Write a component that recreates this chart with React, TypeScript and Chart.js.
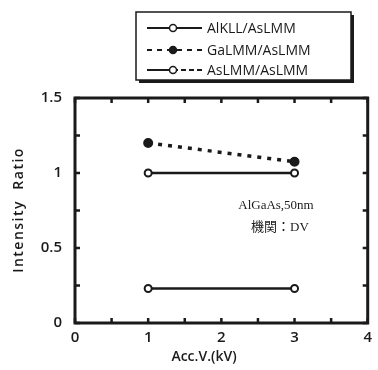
import React, { useEffect, useRef } from "react";
import { Chart, registerables } from "chart.js";

Chart.register(...registerables);

// Accelerating voltage (kV)
const accVoltage = [1, 3];
// Intensity ratios per line pair
const alKllRatio = [0.23, 0.23];
const gaLmmRatio = [1.2, 1.075];
const asLmmRatio = [1.0, 1.0];
const seriesNames = ["AlKLL/AsLMM", "GaLMM/AsLMM", "AsLMM/AsLMM"];
const xTickLabels = ["0", "1", "2", "3", "4"];
const yTickLabels = ["0", "0.5", "1", "1.5"];
const noteLines = ["AlGaAs,50nm", "機関：DV"];

const INK = "#1a1a1a";
const SANS = "'Open Sans', 'DejaVu Sans', sans-serif";

const toPoints = (ys: number[]) => accVoltage.map((x, i) => ({ x, y: ys[i] }));

const decorations = {
  id: "decorations",
  afterDraw(chart: any) {
    const ctx = chart.ctx as CanvasRenderingContext2D;
    const { left, right, top, bottom } = chart.chartArea;
    const xs = chart.scales.x;
    const ys = chart.scales.y;
    ctx.save();

    // frame
    ctx.strokeStyle = INK;
    ctx.lineWidth = 3;
    ctx.strokeRect(left, top, right - left, bottom - top);

    // inward ticks on all four sides
    ctx.lineWidth = 2.5;
    const tl = 5;
    for (let v = 0; v <= 4.0001; v += 0.5) {
      const px = xs.getPixelForValue(v);
      ctx.beginPath();
      ctx.moveTo(px, bottom);
      ctx.lineTo(px, bottom - tl);
      ctx.moveTo(px, top);
      ctx.lineTo(px, top + tl);
      ctx.stroke();
    }
    for (let v = 0; v <= 1.5001; v += 0.25) {
      const py = ys.getPixelForValue(v);
      ctx.beginPath();
      ctx.moveTo(left, py);
      ctx.lineTo(left + tl, py);
      ctx.moveTo(right, py);
      ctx.lineTo(right - tl, py);
      ctx.stroke();
    }

    // axis titles
    ctx.fillStyle = INK;
    ctx.font = `600 14px ${SANS}`;
    ctx.textAlign = "center";
    ctx.textBaseline = "middle";
    ctx.fillText("Acc.V.(kV)", 204, 357);
    ctx.save();
    ctx.translate(19, 210);
    ctx.rotate(-Math.PI / 2);
    (ctx as any).letterSpacing = "1.5px";
    ctx.fillText("Intensity  Ratio", 0, 0);
    ctx.restore();

    // note text
    ctx.font = `13px 'Liberation Serif', 'DejaVu Serif', 'Noto Sans CJK JP', serif`;
    ctx.fillText(noteLines[0], 276, 206);
    ctx.font = `13px 'Liberation Serif', 'Noto Sans CJK JP', serif`;
    ctx.fillText(noteLines[1], 280, 228);

    // legend box with drop shadow
    const bx = 136, by = 12, bw = 215, bh = 68;
    ctx.lineWidth = 1.5;
    ctx.strokeRect(bx, by, bw, bh);
    ctx.lineWidth = 3;
    ctx.beginPath();
    ctx.moveTo(bx + bw + 1.5, by + 3);
    ctx.lineTo(bx + bw + 1.5, by + bh + 1.5);
    ctx.lineTo(bx + 3, by + bh + 1.5);
    ctx.stroke();

    const rows = [28, 50, 70];
    const x0 = 147, x1 = 202, mx = 173;
    ctx.font = `14px ${SANS}`;
    ctx.textAlign = "left";
    rows.forEach((ry, i) => {
      ctx.lineWidth = 2;
      ctx.strokeStyle = INK;
      if (i === 0) {
        ctx.setLineDash([]);
        ctx.beginPath();
        ctx.moveTo(x0, ry);
        ctx.lineTo(x1, ry);
        ctx.stroke();
      } else if (i === 1) {
        ctx.setLineDash([5, 5]);
        ctx.beginPath();
        ctx.moveTo(x0, ry);
        ctx.lineTo(x1, ry);
        ctx.stroke();
      } else {
        ctx.setLineDash([]);
        ctx.beginPath();
        ctx.moveTo(x0, ry);
        ctx.lineTo(mx, ry);
        ctx.stroke();
        ctx.setLineDash([5, 3]);
        ctx.beginPath();
        ctx.moveTo(mx, ry);
        ctx.lineTo(x1, ry);
        ctx.stroke();
      }
      ctx.setLineDash([]);
      ctx.beginPath();
      ctx.arc(mx, ry, 3.5, 0, Math.PI * 2);
      ctx.fillStyle = i === 1 ? INK : "#fff";
      ctx.fill();
      ctx.lineWidth = 1.5;
      ctx.stroke();
      ctx.fillStyle = INK;
      ctx.fillText(seriesNames[i], 207, ry + 1);
    });

    ctx.restore();
  },
};

export default function App() {
  const ref = useRef<HTMLCanvasElement>(null);

  useEffect(() => {
    document.body.style.margin = "0";
    const canvas = ref.current;
    if (!canvas) return;

    const common = {
      borderColor: INK,
      borderWidth: 2.5,
      pointRadius: 3.5,
      pointBorderWidth: 2,
      pointBorderColor: INK,
      showLine: true,
      tension: 0,
    };

    const chart = new Chart(canvas, {
      type: "line",
      data: {
        datasets: [
          { ...common, label: seriesNames[0], data: toPoints(alKllRatio), pointBackgroundColor: "#fff" },
          {
            ...common,
            label: seriesNames[1],
            data: toPoints(gaLmmRatio),
            pointBackgroundColor: INK,
            pointRadius: 4,
            borderDash: [4, 6],
            borderWidth: 3.5,
          },
          { ...common, label: seriesNames[2], data: toPoints(asLmmRatio), pointBackgroundColor: "#fff" },
        ],
      },
      options: {
        responsive: false,
        animation: false,
        layout: { padding: { top: 98, right: 9, left: 0, bottom: 0 } },
        plugins: { legend: { display: false }, tooltip: { enabled: false } },
        scales: {
          x: {
            type: "linear",
            min: 0,
            max: 4,
            afterFit: (s: any) => {
              s.height = 47;
            },
            afterBuildTicks: (s: any) => {
              s.ticks = xTickLabels.map((t) => ({ value: Number(t) }));
            },
            ticks: {
              padding: 6,
              color: INK,
              font: { family: SANS, size: 15, weight: 600 },
              callback: (v: any) => String(v),
            },
            grid: { display: true, drawOnChartArea: false, drawTicks: false },
            border: { display: false },
          },
          y: {
            type: "linear",
            min: 0,
            max: 1.5,
            afterFit: (s: any) => {
              s.width = 75;
            },
            afterBuildTicks: (s: any) => {
              s.ticks = yTickLabels.map((t) => ({ value: Number(t) }));
            },
            ticks: {
              padding: 13,
              color: INK,
              font: { family: SANS, size: 15, weight: 600 },
              callback: (v: any) => String(v),
            },
            grid: { display: true, drawOnChartArea: false, drawTicks: false },
            border: { display: false },
          },
        },
      },
      plugins: [decorations],
    } as any);

    return () => chart.destroy();
  }, []);

  return <canvas ref={ref} width={378} height={370} style={{ display: "block" }} />;
}
